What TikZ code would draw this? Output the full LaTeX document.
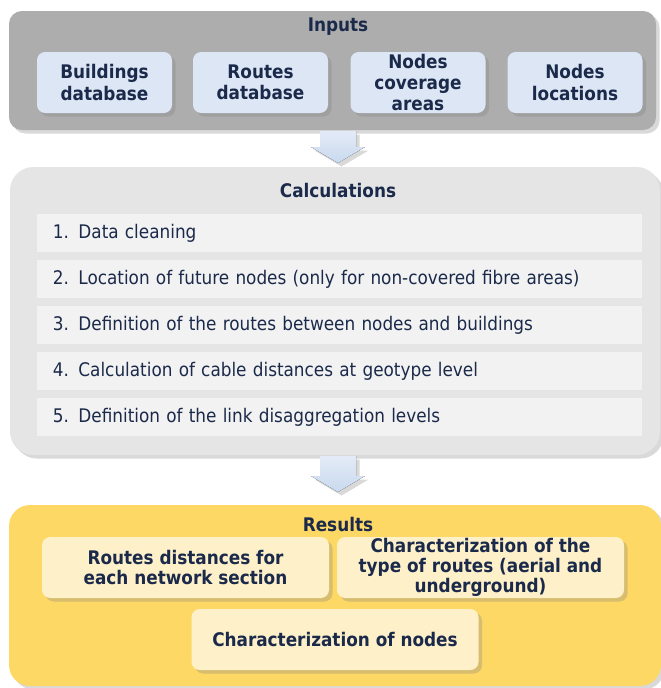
\documentclass[tikz,border=0pt]{standalone}
\usepackage{fontspec}
\setmainfont{DejaVu Sans Condensed}
\usetikzlibrary{calc,shadows}
\definecolor{navy}{HTML}{1B2A4A}
\definecolor{ingray}{HTML}{ADADAD}
\definecolor{inblue}{HTML}{DCE6F4}
\definecolor{calcgray}{HTML}{E5E5E5}
\definecolor{rowgray}{HTML}{F2F2F2}
\definecolor{resyellow}{HTML}{FDD865}
\definecolor{cream}{HTML}{FEF1CA}
\definecolor{arrtop}{HTML}{E3EBF7}
\definecolor{arrbot}{HTML}{C9D9EF}
\newcommand{\pxu}{0.03cm}
\newcommand{\blockarrow}[2]{\fill[arrfill] ($(#1)+(-18,0)$) -- ($(#1)+(18,0)$) -- ($(#2)+(18,-16)$) -- ($(#2)+(27,-16)$) -- (#2) -- ($(#2)+(-27,-16)$) -- ($(#2)+(-18,-16)$) -- cycle;}

\begin{document}
\begin{tikzpicture}[x=0.03cm,y=-0.03cm,
	every node/.style={text=navy,inner sep=0pt},
	softshadow/.style={drop shadow={shadow xshift=3pt,shadow yshift=-3pt,opacity=0.3}},
	panel/.style={rounded corners=#1,softshadow},
	paneltitle/.style={font=\bfseries\fontsize{16pt}{18pt}\selectfont},
	inbox/.style={fill=inblue,rounded corners=7pt,softshadow,minimum width=135*\pxu,minimum height=61*\pxu,align=center,font=\bfseries\fontsize{16pt}{18pt}\selectfont},
	rowbox/.style={fill=rowgray,minimum width=605*\pxu,minimum height=38*\pxu,text width=573*\pxu,inner xsep=16*\pxu,align=left,font=\fontsize{16pt}{18pt}\selectfont},
	resbox/.style={fill=cream,rounded corners=7pt,softshadow,minimum width=287*\pxu,minimum height=61*\pxu,align=center,font=\bfseries\fontsize{16pt}{17pt}\selectfont},
	arrfill/.style={top color=arrtop,bottom color=arrbot,softshadow}]
\useasboundingbox (0,0) rectangle (661,688);

\path (332.5,70.5) node[panel=11pt,fill=ingray,minimum width=647*\pxu,minimum height=119*\pxu] (inp) {}
		(335,311) node[panel=20pt,fill=calcgray,minimum width=650*\pxu,minimum height=288*\pxu] (calc) {}
		(335,595.5) node[panel=18pt,fill=resyellow,minimum width=652*\pxu,minimum height=181*\pxu] (res) {};

\path (338,27) node[paneltitle] (tin) {Inputs}
		(104.5,82.5) node[inbox] (build) {Buildings\\database}
		(260.5,82.5) node[inbox] (route) {Routes\\database}
		(418,82.5) node[inbox] (cover) {Nodes\\coverage\\areas}
		(575,82.5) node[inbox] (loc) {Nodes\\locations};

\path (338,191) node[paneltitle] (tcalc) {Calculations}
		(339.5,233) node[rowbox] (step1) {1. Data cleaning}
		(339.5,279) node[rowbox] (step2) {2. Location of future nodes (only for non-covered fibre areas)}
		(339.5,325) node[rowbox] (step3) {3. Definition of the routes between nodes and buildings}
		(339.5,371) node[rowbox] (step4) {4. Calculation of cable distances at geotype level}
		(339.5,417) node[rowbox] (step5) {5. Definition of the link disaggregation levels};

\path (338,525) node[paneltitle] (tres) {Results}
		(185.5,567.5) node[resbox] (dist) {Routes distances for\\each network section}
		(480.5,567.5) node[resbox] (type) {Characterization of the\\type of routes (aerial and\\underground)}
		(335,639.5) node[resbox] (char) {Characterization of nodes};

\coordinate (a1s) at (338,131);
\coordinate (a1e) at (338,163);
\coordinate (a2s) at (338,456);
\coordinate (a2e) at (338,492);
\blockarrow{a1s}{a1e}
\blockarrow{a2s}{a2e}
\end{tikzpicture}
\end{document}
